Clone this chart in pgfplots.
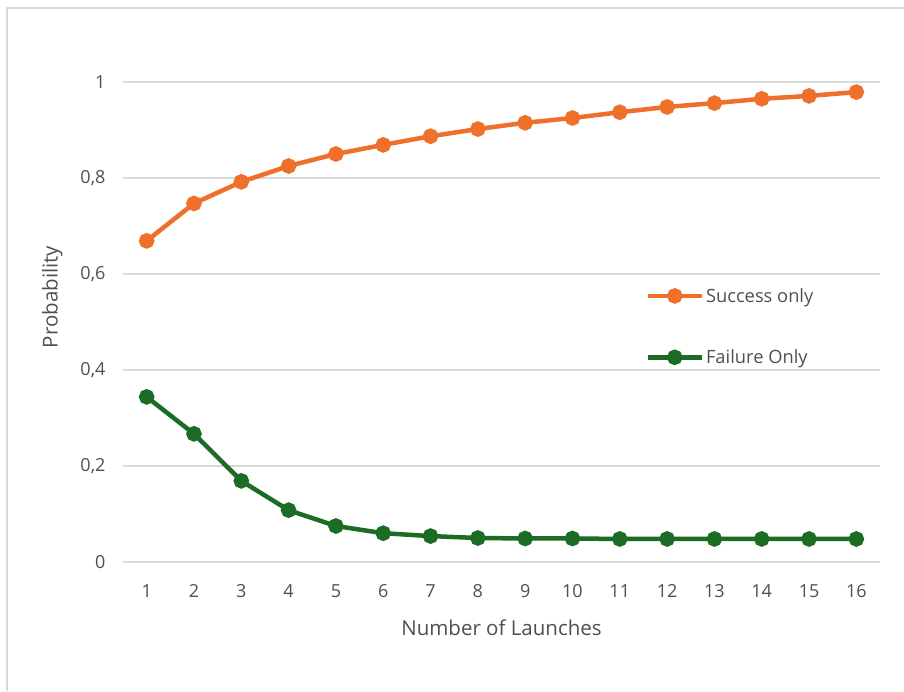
\documentclass[border=0pt]{standalone}
\usepackage{pgfplots}
\pgfplotsset{compat=1.18}
\usepackage{fontspec}
\setmainfont{Open Sans}
\definecolor{orng}{RGB}{238,112,42}
\definecolor{grn}{RGB}{28,108,38}
\definecolor{txt}{RGB}{80,80,80}
\definecolor{grd}{RGB}{217,217,217}
\begin{document}
\begin{tikzpicture}[x=1pt,y=1pt]
\fill[white] (0,0) rectangle (904,691);
\draw[line width=1.5pt, black!15] (7,0) -- (7,683) -- (904,683);
\begin{axis}[
  at={(123pt,129pt)}, anchor=south west,
  scale only axis, width=757pt, height=480pt,
  xmin=0.5, xmax=16.5, ymin=0, ymax=1,
  axis line style={draw=none},
  major tick length=0pt,
  xtick={1,...,16}, ytick={0,0.2,...,1},
  ymajorgrids, grid style={grd, line width=1.5pt},
  /pgf/number format/assume math mode=true,
  /pgf/number format/use comma,
  ticklabel style={font=\fontsize{18}{21}\selectfont, text=txt},
  yticklabel style={xshift=-14pt},
  xticklabel style={yshift=-19pt},
  xlabel={Number of Launches}, ylabel={Probability},
  label style={font=\fontsize{20.5}{24}\selectfont, text=txt},
  xlabel style={at={(axis description cs:0.5,0)}, anchor=center, yshift=-66pt},
  ylabel style={at={(axis description cs:-0.0935,0.552)}, anchor=center},
  legend style={at={(axis description cs:0.69,0.575)}, anchor=north west, draw=none, fill=none,
    font=\fontsize{18.3}{21}\selectfont, text=txt, row sep=42pt, inner sep=0pt},
  legend cell align=left,
  legend image code/.code={\draw[#1] (0pt,0pt) -- (54pt,0pt); \draw[#1, mark repeat=1] plot coordinates {(27pt,0pt)};},
  every axis plot/.append style={line width=4.5pt, mark=*, mark size=5.5pt, mark options={line width=0.5pt}},
]
\addplot[orng, mark options={fill=orng, draw=orng}] coordinates {
(1,0.669)(2,0.747)(3,0.792)(4,0.825)(5,0.850)(6,0.869)(7,0.887)(8,0.902)
(9,0.915)(10,0.925)(11,0.937)(12,0.948)(13,0.956)(14,0.965)(15,0.971)(16,0.979)};
\addlegendentry{Success only}
\addplot[grn, mark options={fill=grn, draw=grn}] coordinates {
(1,0.344)(2,0.267)(3,0.169)(4,0.108)(5,0.075)(6,0.060)(7,0.054)(8,0.050)
(9,0.049)(10,0.049)(11,0.048)(12,0.048)(13,0.048)(14,0.048)(15,0.048)(16,0.048)};
\addlegendentry{Failure Only}
\end{axis}
\pgfresetboundingbox
\useasboundingbox (0,0) rectangle (904,691);
\end{tikzpicture}
\end{document}
